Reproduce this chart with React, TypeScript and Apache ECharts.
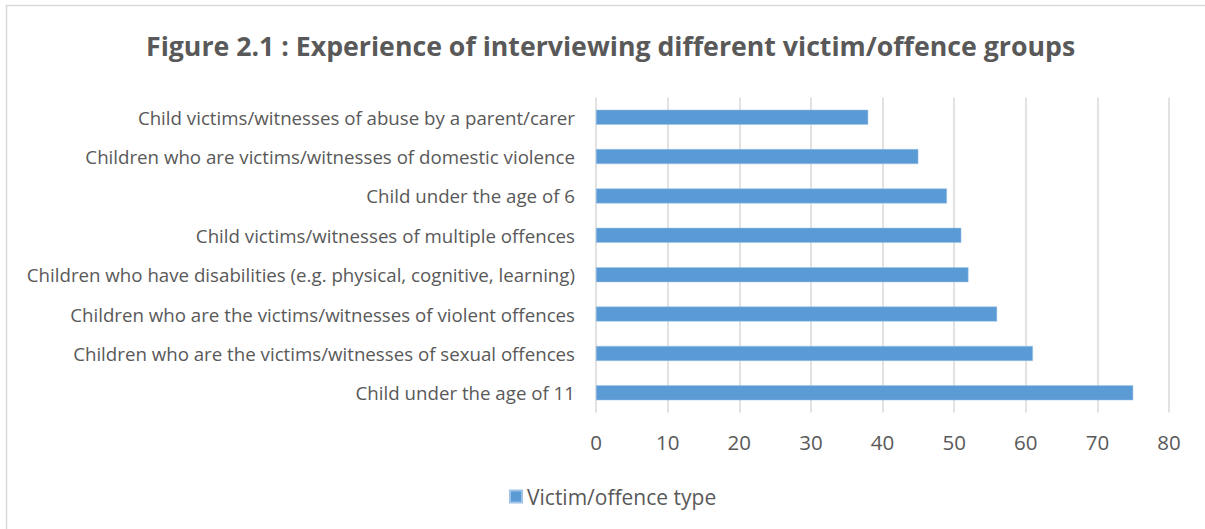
import React, { useEffect, useRef } from "react";
import * as echarts from "echarts";

const titleText = "Figure 2.1 : Experience of interviewing different victim/offence groups";
const seriesName = "Victim/offence type";
const categories = [
  "Child victims/witnesses of abuse by a parent/carer",
  "Children who are victims/witnesses of domestic violence",
  "Child under the age of 6",
  "Child victims/witnesses of multiple offences",
  "Children who have disabilities (e.g. physical, cognitive, learning)",
  "Children who are the victims/witnesses of violent offences",
  "Children who are the victims/witnesses of sexual offences",
  "Child under the age of 11",
];
const values = [38, 45, 49, 51, 52, 56, 61, 75];
const xMin = 0;
const xMax = 80;
const xStep = 10;

const FONT = "'Open Sans', Lato, sans-serif";

export default function App() {
  const ref = useRef<HTMLDivElement>(null);
  useEffect(() => {
    if (!ref.current) return;
    const chart = echarts.init(ref.current, null, { renderer: "svg" });
    chart.setOption({
      animation: false,
      backgroundColor: "#ffffff",
      textStyle: { fontFamily: FONT },
      title: {
        text: titleText,
        left: 141,
        top: 27,
        textStyle: {
          fontFamily: FONT,
          fontSize: 26.7,
          fontWeight: "bold",
          color: "#595959",
        },
      },
      graphic: [
        {
          type: "rect",
          shape: { x: 6.5, y: 5.5, width: 1210, height: 540 },
          style: { fill: "none", stroke: "#d9d9d9", lineWidth: 1.5 },
          silent: true,
        },
      ],
      legend: {
        bottom: 17,
        left: 504,
        itemWidth: 12,
        itemHeight: 12,
        icon: "rect",
        itemGap: 8,
        textStyle: { fontFamily: FONT, fontSize: 21, color: "#595959" },
        data: [seriesName],
      },
      grid: {
        left: 596,
        right: 36,
        top: 97.5,
        bottom: 116.5,
        containLabel: false,
      },
      xAxis: {
        type: "value",
        min: xMin,
        max: xMax,
        interval: xStep,
        axisLine: { show: false },
        axisTick: { show: false },
        axisLabel: {
          fontFamily: FONT,
          fontSize: 20.5,
          color: "#595959",
          margin: 19,
        },
        splitLine: { show: true, lineStyle: { color: "#d9d9d9", width: 1.5 } },
      },
      yAxis: {
        type: "category",
        inverse: true,
        data: categories,
        axisLine: { show: false },
        axisTick: { show: false },
        axisLabel: {
          fontFamily: FONT,
          fontSize: 18.7,
          color: "#595959",
          margin: 21,
        },
      },
      series: [
        {
          name: seriesName,
          type: "bar",
          data: values,
          barWidth: 15,
          itemStyle: { color: "#5b9bd5", borderColor: "#9dc3e6", borderWidth: 0.5 },
        },
      ],
    });
    return () => chart.dispose();
  }, []);
  return (
    <div
      ref={ref}
      style={{ position: "absolute", left: 0, top: 0, width: 1205, height: 529 }}
    />
  );
}
